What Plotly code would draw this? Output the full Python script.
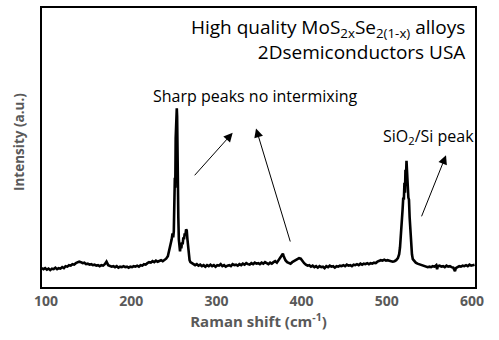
import plotly.graph_objects as go

# ---- data ----
raman_shift = [95,97,99,101,103,105,107,109,111,113,115,117,119,121,123,125,127,129,131,133,135,137,139,141,143,145,147,149,151,153,155,157,159,161,163,165,167,169,171,173,175,177,179,181,183,185,187,189,191,193,195,197,199,201,203,205,207,209,211,213,215,217,219,221,223,225,227,229,231,233,235,237,239,241,243,244.5,245.5,246.5,247.5,248.5,249.3,250,250.7,251.2,251.7,252.2,252.7,253.1,253.5,253.9,254.3,254.8,255.3,255.9,256.6,257.3,258,258.8,259.6,260.4,261.2,262,262.8,263.6,264.4,265.2,266,266.8,267.6,268.5,269.5,271,273,275,277,279,281,283,285,287,289,291,293,295,297,299,301,303,305,307,309,311,313,315,317,319,321,323,325,327,329,331,333,335,337,339,341,343,345,347,349,351,353,355,357,359,361,363,365,367,369,371,373,375,377,378,379,381,383,385,387,389,391,393,395,397,399,401,403,405,407,409,411,413,415,417,419,421,423,425,427,429,431,433,435,437,439,441,443,445,447,449,451,453,455,457,459,461,463,465,467,469,471,473,475,477,479,481,483,485,487,489,491,493,495,497,499,501,503,505,507,509,511,513,514.5,515.5,516.5,517.5,518.5,519.3,520,520.7,521.3,521.9,522.5,523.1,523.6,524.1,524.7,525.3,526,526.8,527.6,528.5,529.5,530.5,532,534,536,538,540,542,544,546,548,550,552,554,556,558,559,560,562,564,566,568,570,572,574,576,578,580,581,583,585,587,589,591,593,595,597,599,601,603]
intensity = [19,18,19,17.5,18.5,17,18.5,18,19.5,18,19,18.5,20,19,21,20.5,22,21.5,23,22.5,24,24.5,25.5,25,24,24.5,23,23.5,22.5,23,22,22.5,21.5,22,21,22,21.5,23,25.5,22,21.5,20.5,21,20,21,19.5,20.5,20,21,20,20.5,19.5,20.5,20,21,20.5,21.5,20.5,22,21.5,23,22.5,24,25,24.5,26,25,26.5,25.5,26,27,26,27.5,28.5,31,36,40,44,48,54,50,56,75,110,100,150,178,160,180,172,112,108,70,48,40,36,42,39,45,43,50,48,54,52,58,57,48,38,30,27,25,24,23.5,22,23,21.5,22.5,21,22,20.5,22,21,22.5,21,22,20.5,22,21.5,23,21,22,20.5,21.5,22,21,23,22,22.5,21.5,23,22,23.5,22.5,24,23,22.5,24,23,24.5,23.5,24,23,24.5,23.5,25,24,23,24.5,23.5,25,26,24.5,27,29,32,33.5,31,27,25,24,23.5,25,26,27.5,28.5,29,28.5,26,24,22.5,21.5,22,20.5,21.5,20,21,19.5,21,20,20.5,19,21,20,21.5,20.5,21,19.5,21,20.5,21.5,21,22,21,22.5,21.5,22,21,22.5,22,23,22,23.5,22.5,23.5,23,24,23,24,23.5,24.5,24,25.5,26,27,26.5,27.5,26.5,27,26.5,26,25.5,26,27,29,33,40,50,62,78,90,88,105,95,118,110,127,112,122,100,90,88,70,55,42,33,28,26,24.5,23.5,23,22,21.5,21,20.5,20,20.5,20,21,20.5,22,18,21,21.5,20.5,21,20,21.5,20.5,21,20,19.5,16,19,20,21,20.5,21.5,21,22,21,22.5,21.5,22,22.5]
tick_values = [100, 200, 300, 400, 500, 600]
tick_labels = ["100", "200", "300", "400", "500", "600"]

AX_GRAY = "#595959"
FONT = "Open Sans"

fig = go.Figure()
fig.add_trace(go.Scatter(x=raman_shift, y=intensity, mode="lines",
                         line=dict(color="black", width=2.6), showlegend=False,
                         hoverinfo="skip"))

fig.update_layout(
    width=499, height=340,
    margin=dict(l=42, r=24, t=6, b=53),
    paper_bgcolor="white", plot_bgcolor="white",
    font=dict(family=FONT, color="black"),
    xaxis=dict(range=[95.3, 603.5], tickvals=tick_values, ticktext=tick_labels,
               showgrid=False, zeroline=False, showline=True, mirror=True,
               linecolor="black", linewidth=1.5, ticks="",
               tickfont=dict(family=FONT, size=14, color=AX_GRAY, weight="bold"),
               title=dict(text="<b>Raman shift (cm<sup>-1</sup>)</b>",
                          font=dict(family=FONT, size=15, color=AX_GRAY), standoff=5)),
    yaxis=dict(range=[0, 281], showticklabels=False, showgrid=False, zeroline=False,
               showline=True, mirror=True, linecolor="black", linewidth=1.5, ticks=""),
)

annotations = [
    dict(text="High quality MoS<sub>2x</sub>Se<sub>2(1-x)</sub> alloys<br>2Dsemiconductors USA",
         xref="paper", yref="paper", x=0.982, y=0.985, xanchor="right", yanchor="top",
         align="right", showarrow=False, font=dict(family=FONT, size=19, color="black")),
    dict(text="Sharp peaks no intermixing", xref="paper", yref="paper", x=0.252, y=0.683,
         xanchor="left", yanchor="middle", showarrow=False,
         font=dict(family=FONT, size=16, color="black")),
    dict(text="SiO<sub>2</sub>/Si peak", xref="paper", yref="paper", x=0.783, y=0.541,
         xanchor="left", yanchor="middle", showarrow=False,
         font=dict(family=FONT, size=16, color="black")),
    dict(text="<b>Intensity (a.u.)</b>", xref="paper", yref="paper", x=-0.053, y=0.52,
         xanchor="center", yanchor="middle", textangle=-90, showarrow=False,
         font=dict(family=FONT, size=13.5, color=AX_GRAY)),
]
arrows = [((272.9, 111), (319.1, 155.3)), ((387.2, 44.3), (346.5, 159.7)), ((540.1, 69.7), (569.5, 132.7))]
for (tx, ty), (hx, hy) in arrows:
    annotations.append(dict(x=hx, y=hy, ax=tx, ay=ty, xref="x", yref="y", axref="x", ayref="y",
                            text="", showarrow=True, arrowhead=2, arrowsize=1.8, arrowwidth=1,
                            arrowcolor="black", standoff=0))
fig.update_layout(annotations=annotations)

fig.write_html("out.html")
